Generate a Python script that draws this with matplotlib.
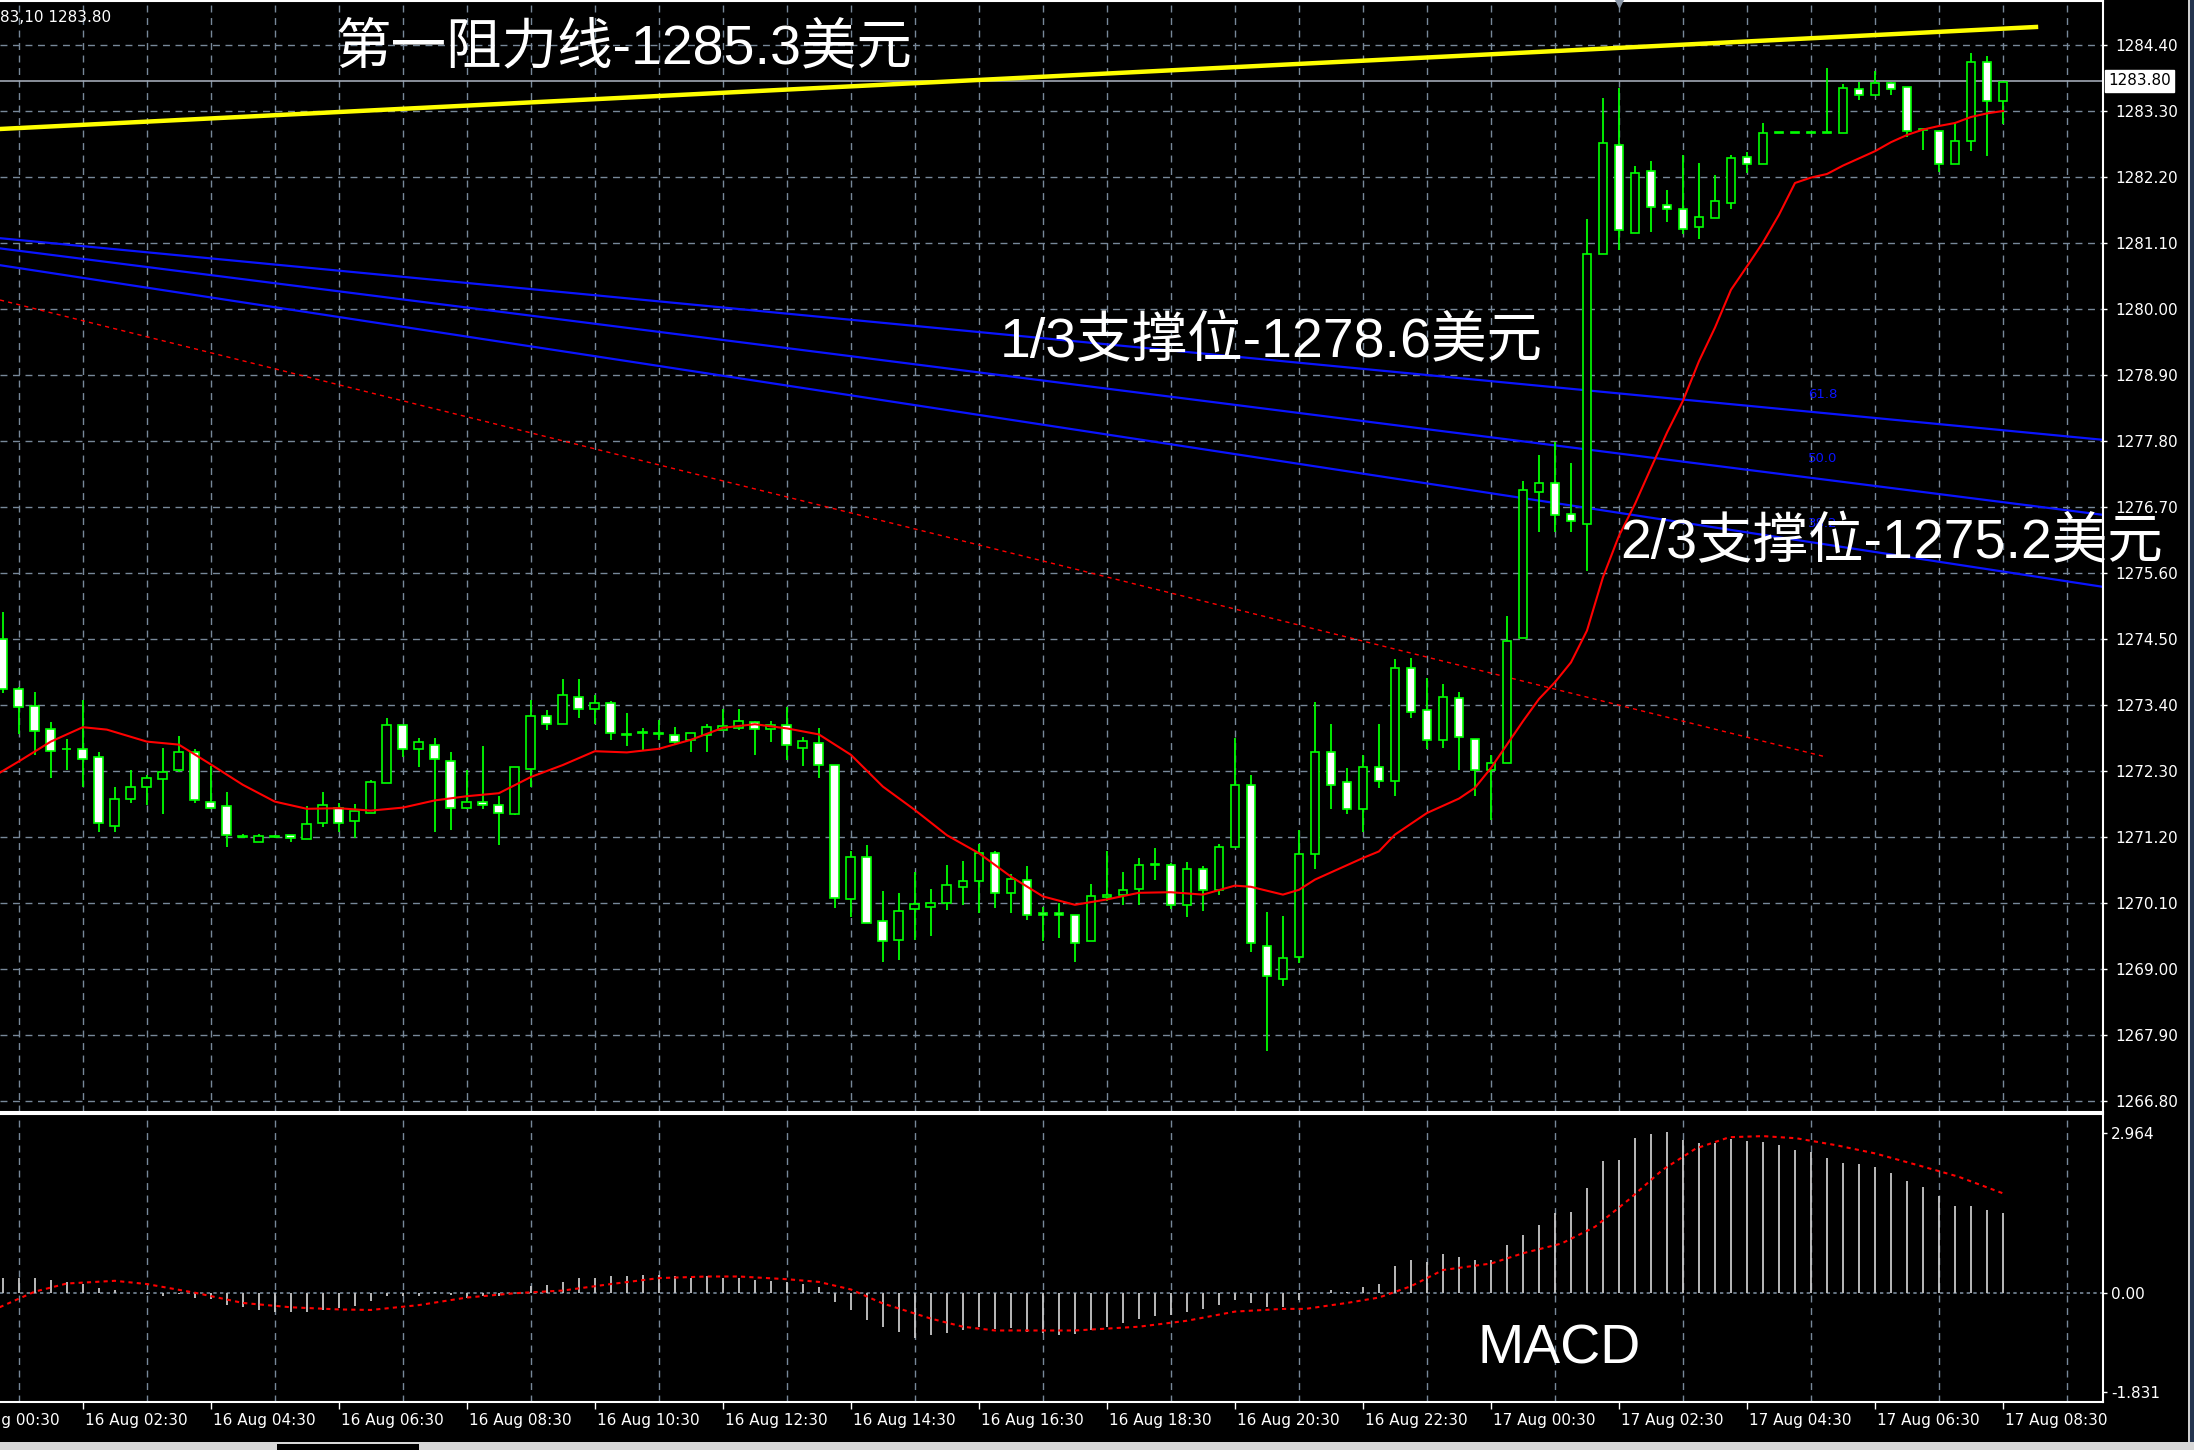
import numpy as np
import matplotlib
matplotlib.use("Agg")
import matplotlib.pyplot as plt
from matplotlib.patches import Rectangle

W, H = 2194, 1450

# 15 minute bars, index 0 = 16 Aug 02:30
bar_idx = np.arange(-5, 121)

opens = [1274.50, 1273.67, 1273.38, 1273.00, 1272.66, 1272.67, 1272.54, 1271.39, 1271.84, 1272.03,
         1272.17, 1272.31, 1272.62, 1271.78, 1271.71, 1271.20, 1271.12, 1271.22, 1271.24, 1271.17,
         1271.43, 1271.69, 1271.46, 1271.60, 1272.10, 1273.07, 1272.67, 1272.74, 1272.47, 1271.69,
         1271.78, 1271.74, 1271.59, 1272.33, 1273.21, 1273.09, 1273.53, 1273.33, 1273.43, 1272.90,
         1272.93, 1272.93, 1272.90, 1272.82, 1272.90, 1272.99, 1273.02, 1273.11, 1273.00, 1273.07,
         1272.69, 1272.77, 1272.40, 1270.16, 1270.87, 1269.80, 1269.49, 1270.00, 1270.03, 1270.10,
         1270.36, 1270.46, 1270.94, 1270.26, 1270.49, 1269.94, 1269.94, 1269.90, 1269.46, 1270.20,
         1270.24, 1270.33, 1270.74, 1270.74, 1270.07, 1270.67, 1270.32, 1271.04, 1272.07, 1269.38,
         1268.83, 1269.20, 1270.91, 1272.61, 1272.11, 1271.67, 1272.37, 1272.14, 1274.01, 1273.31,
         1272.81, 1273.51, 1272.83, 1272.31, 1272.43, 1274.51, 1276.95, 1277.10, 1276.59, 1276.42,
         1280.92, 1282.73, 1281.26, 1282.30, 1281.74, 1281.67, 1281.36, 1281.52, 1281.77, 1282.53,
         1282.41, 1282.93, 1282.93, 1282.93, 1282.93, 1282.93, 1283.66, 1283.57, 1283.76, 1283.70,
         1282.99, 1282.96, 1282.42, 1282.80, 1284.11, 1283.46]
highs = [1274.95, 1273.70, 1273.61, 1273.11, 1272.84, 1273.48, 1272.61, 1272.04, 1272.31, 1272.24,
         1272.68, 1272.88, 1272.67, 1272.38, 1271.95, 1271.25, 1271.25, 1271.24, 1271.24, 1271.71,
         1271.95, 1271.77, 1271.75, 1272.15, 1273.18, 1273.07, 1272.85, 1272.85, 1272.62, 1272.32,
         1272.71, 1271.88, 1272.37, 1273.49, 1273.32, 1273.84, 1273.84, 1273.56, 1273.47, 1273.27,
         1273.01, 1273.15, 1273.04, 1272.94, 1273.08, 1273.34, 1273.34, 1273.13, 1273.13, 1273.37,
         1272.87, 1273.01, 1272.40, 1270.97, 1271.07, 1270.30, 1270.27, 1270.61, 1270.34, 1270.74,
         1270.80, 1271.08, 1270.97, 1270.59, 1270.71, 1270.04, 1270.10, 1269.90, 1270.42, 1270.97,
         1270.62, 1270.85, 1271.02, 1270.77, 1270.78, 1270.71, 1271.08, 1272.85, 1272.24, 1269.95,
         1269.88, 1271.32, 1273.45, 1273.08, 1272.35, 1272.57, 1273.08, 1274.16, 1274.18, 1273.85,
         1273.75, 1273.62, 1272.83, 1272.57, 1274.88, 1277.13, 1277.56, 1277.79, 1277.43, 1281.50,
         1283.51, 1283.69, 1282.38, 1282.47, 1281.98, 1282.57, 1282.44, 1282.24, 1282.57, 1282.61,
         1283.10, 1282.93, 1282.93, 1282.93, 1284.01, 1283.75, 1283.78, 1283.97, 1283.79, 1283.70,
         1282.99, 1282.96, 1283.11, 1284.27, 1284.21, 1283.79]
lows = [1273.60, 1272.91, 1272.56, 1272.19, 1272.31, 1272.03, 1271.29, 1271.29, 1271.76, 1271.74,
        1271.59, 1272.29, 1271.76, 1271.66, 1271.03, 1271.19, 1271.12, 1271.19, 1271.12, 1271.17,
        1271.36, 1271.29, 1271.19, 1271.60, 1272.10, 1272.54, 1272.36, 1271.29, 1271.32, 1271.66,
        1271.66, 1271.07, 1271.56, 1272.03, 1272.99, 1273.09, 1273.19, 1273.09, 1272.82, 1272.72,
        1272.63, 1272.82, 1272.73, 1272.62, 1272.62, 1272.99, 1272.98, 1272.56, 1272.79, 1272.48,
        1272.39, 1272.19, 1270.02, 1269.86, 1269.76, 1269.12, 1269.15, 1269.49, 1269.55, 1269.98,
        1270.06, 1269.93, 1270.02, 1269.93, 1269.82, 1269.46, 1269.51, 1269.12, 1269.46, 1270.13,
        1270.06, 1270.06, 1270.49, 1270.00, 1269.86, 1269.96, 1270.23, 1271.04, 1269.29, 1267.63,
        1268.72, 1269.10, 1270.66, 1271.66, 1271.58, 1271.29, 1272.02, 1271.89, 1273.18, 1272.66,
        1272.68, 1272.32, 1271.89, 1271.49, 1272.43, 1274.51, 1276.29, 1276.29, 1276.29, 1275.64,
        1280.92, 1280.98, 1281.26, 1281.29, 1281.45, 1281.25, 1281.16, 1281.52, 1281.66, 1282.26,
        1282.41, 1282.93, 1282.93, 1282.93, 1282.93, 1282.93, 1283.48, 1283.57, 1283.56, 1282.86,
        1282.65, 1282.29, 1282.42, 1282.64, 1282.55, 1283.09]
closes = [1273.67, 1273.37, 1272.97, 1272.64, 1272.66, 1272.50, 1271.43, 1271.84, 1272.04, 1272.18,
          1272.28, 1272.62, 1271.81, 1271.69, 1271.23, 1271.21, 1271.21, 1271.20, 1271.19, 1271.41,
          1271.74, 1271.43, 1271.64, 1272.11, 1273.07, 1272.67, 1272.78, 1272.50, 1271.69, 1271.78,
          1271.73, 1271.60, 1272.37, 1273.21, 1273.09, 1273.57, 1273.33, 1273.43, 1272.93, 1272.90,
          1272.93, 1272.91, 1272.79, 1272.93, 1273.04, 1273.05, 1273.13, 1273.00, 1273.07, 1272.73,
          1272.80, 1272.40, 1270.18, 1270.87, 1269.76, 1269.47, 1269.97, 1270.08, 1270.10, 1270.40,
          1270.47, 1270.94, 1270.26, 1270.50, 1269.90, 1269.90, 1269.90, 1269.44, 1270.21, 1270.24,
          1270.31, 1270.74, 1270.74, 1270.07, 1270.67, 1270.31, 1271.04, 1272.07, 1269.43, 1268.88,
          1269.18, 1270.92, 1272.61, 1272.07, 1271.67, 1272.37, 1272.14, 1274.01, 1273.29, 1272.81,
          1273.54, 1272.87, 1272.31, 1272.43, 1274.47, 1276.98, 1277.10, 1276.57, 1276.46, 1280.92,
          1282.76, 1281.31, 1282.26, 1281.70, 1281.67, 1281.34, 1281.53, 1281.80, 1282.51, 1282.41,
          1282.94, 1282.93, 1282.93, 1282.93, 1282.93, 1283.68, 1283.57, 1283.76, 1283.67, 1282.96,
          1282.99, 1282.41, 1282.80, 1284.11, 1283.46, 1283.79]

# moving average (red)
ma_idx = [-5.2, -4, -2, 0, 1.5, 4, 6, 8, 10, 12, 14, 16, 18, 20, 22, 24, 26, 28, 30, 32, 34, 36, 38,
          40, 42, 44, 46, 48, 50, 52, 54, 56, 58, 60, 62, 64, 66, 68, 70, 72, 73, 75, 76, 77, 78, 80,
          81, 82, 84, 86, 87, 88, 89, 90, 91, 92, 93, 94, 95, 96, 97, 98, 99, 100, 101, 102, 103, 104,
          105, 106, 107, 108, 109, 110, 111, 112, 113, 114, 115, 116, 117, 118, 119, 120]
ma_val = [1272.27, 1272.46, 1272.79, 1273.03, 1272.99, 1272.79, 1272.74, 1272.41, 1272.07, 1271.79,
          1271.67, 1271.68, 1271.64, 1271.69, 1271.81, 1271.88, 1271.93, 1272.20, 1272.40, 1272.63,
          1272.61, 1272.67, 1272.82, 1273.02, 1273.08, 1273.01, 1272.91, 1272.57, 1272.04, 1271.65,
          1271.23, 1270.93, 1270.54, 1270.21, 1270.07, 1270.16, 1270.27, 1270.28, 1270.24, 1270.39,
          1270.37, 1270.24, 1270.32, 1270.49, 1270.61, 1270.85, 1270.96, 1271.24, 1271.60, 1271.84,
          1272.02, 1272.35, 1272.74, 1273.13, 1273.50, 1273.78, 1274.11, 1274.64, 1275.53, 1276.22,
          1276.75, 1277.35, 1277.94, 1278.47, 1279.13, 1279.69, 1280.32, 1280.71, 1281.11, 1281.57,
          1282.10, 1282.19, 1282.25, 1282.39, 1282.51, 1282.63, 1282.78, 1282.90, 1282.99, 1283.05,
          1283.10, 1283.20, 1283.26, 1283.30]

macd_hist = [0.28, 0.28, 0.27, 0.23, 0.19, 0.16, 0.08, 0.05, 0.00, -0.02,
             -0.06, -0.02, -0.09, -0.12, -0.23, -0.26, -0.32, -0.35, -0.35, -0.36,
             -0.32, -0.29, -0.25, -0.15, -0.06, -0.07, -0.06, 0.02, -0.04, -0.09,
             -0.07, -0.06, 0.00, 0.12, 0.14, 0.20, 0.27, 0.27, 0.31, 0.31,
             0.33, 0.33, 0.30, 0.27, 0.30, 0.28, 0.27, 0.23, 0.22, 0.19,
             0.16, 0.11, -0.17, -0.32, -0.51, -0.63, -0.72, -0.83, -0.78, -0.74,
             -0.69, -0.63, -0.68, -0.66, -0.72, -0.75, -0.78, -0.77, -0.69, -0.63,
             -0.57, -0.49, -0.44, -0.41, -0.35, -0.31, -0.23, -0.14, -0.20, -0.27,
             -0.26, -0.14, 0.00, 0.05, 0.02, 0.11, 0.17, 0.49, 0.60, 0.57,
             0.72, 0.67, 0.60, 0.60, 0.88, 1.07, 1.25, 1.47, 1.50, 1.93,
             2.43, 2.46, 2.86, 2.94, 2.98, 2.83, 2.77, 2.77, 2.84, 2.81,
             2.80, 2.73, 2.64, 2.61, 2.49, 2.41, 2.38, 2.33, 2.22, 2.07,
             1.95, 1.79, 1.61, 1.61, 1.53, 1.48]
signal_idx = [-5.2, -3, -1, 2, 4, 7, 10, 13, 16, 18, 21, 24, 27, 30, 33, 36, 39, 41, 44, 46, 48, 50,
              53, 55, 57, 62, 66, 69, 72, 75, 76.4, 79, 81, 83, 85, 88, 90, 92.4, 94.5, 96.6, 98.7,
              100.8, 102.9, 105, 107.1, 109.6, 112, 114.7, 117.2, 120]
signal_val = [-0.27, 0.02, 0.17, 0.22, 0.16, 0.00, -0.19, -0.27, -0.31, -0.32, -0.23, -0.09, -0.01,
              0.04, 0.16, 0.27, 0.30, 0.30, 0.25, 0.20, 0.06, -0.20, -0.48, -0.63, -0.70, -0.70,
              -0.63, -0.52, -0.35, -0.30, -0.30, -0.19, -0.09, 0.12, 0.42, 0.54, 0.73, 0.91, 1.22,
              1.72, 2.27, 2.67, 2.88, 2.90, 2.86, 2.73, 2.58, 2.36, 2.15, 1.84]

time_tick_idx = [-8, 0, 8, 16, 24, 32, 40, 48, 56, 64, 72, 80, 88, 96, 104, 112, 120]
time_labels = ["16 Aug 00:30", "16 Aug 02:30", "16 Aug 04:30", "16 Aug 06:30", "16 Aug 08:30",
               "16 Aug 10:30", "16 Aug 12:30", "16 Aug 14:30", "16 Aug 16:30", "16 Aug 18:30",
               "16 Aug 20:30", "16 Aug 22:30", "17 Aug 00:30", "17 Aug 02:30", "17 Aug 04:30",
               "17 Aug 06:30", "17 Aug 08:30"]
price_ticks = [1266.80, 1267.90, 1269.00, 1270.10, 1271.20, 1272.30, 1273.40, 1274.50, 1275.60,
               1276.70, 1277.80, 1278.90, 1280.00, 1281.10, 1282.20, 1283.30, 1284.40]
macd_ticks = [-1.831, 0.0, 2.964]
bid = 1283.80

# drawn objects (bar index, price)
resist_x, resist_y = [-5.175, 122.06], [1283.00, 1284.70]
fib_x = [-5.175, 126.23]
fib_a = [1281.18, 1277.82]
fib_b = [1281.01, 1276.57]
fib_c = [1280.73, 1275.37]
fib_labels = ["61.8", "50.0", "38.2"]
fib_label_y = [1278.58, 1277.50, 1276.42]
down_x, down_y = [-5.175, 109.0], [1280.15, 1272.53]

GREEN = "#00ff00"
GRID = "#778899"
CJK = ["Liberation Sans", "Noto Sans CJK SC"]

fig = plt.figure(figsize=(W / 100, H / 100), dpi=100, facecolor="black")
ax = fig.add_axes([0, 1 - 1111.7 / H, 2102.7 / W, 1110.7 / H])
ax2 = fig.add_axes([0, 1 - 1401.7 / H, 2102.7 / W, 287.4 / H])

for a in (ax, ax2):
    a.set_facecolor("black")
    a.set_xlim(-5.175, 126.23)
    for s in ("top", "right", "bottom"):
        a.spines[s].set_color("white")
        a.spines[s].set_linewidth(1.5)
    a.spines["left"].set_visible(False)
    a.yaxis.tick_right()

# ---- price panel ----
ax.set_ylim(1266.622, 1285.133)
ax.set_yticks(price_ticks)
ax.set_yticklabels(["%.2f" % p for p in price_ticks])
ax.set_xticks(np.arange(-4, 127, 4))
ax.tick_params(axis="x", bottom=False, labelbottom=False)
ax.tick_params(axis="y", colors="white", length=3, width=1, pad=6, labelsize=11)
ax.grid(True, color=GRID, linestyle=(0, (5, 4)), linewidth=1)
ax.set_axisbelow(True)

o = np.array(opens); c = np.array(closes)
up = c >= o
ax.vlines(bar_idx, lows, highs, color=GREEN, linewidth=1.3, zorder=3)
ax.bar(bar_idx, np.maximum(np.abs(c - o), 0.015), bottom=np.minimum(o, c), width=0.55,
       color=np.where(up, "black", "white"), edgecolor=GREEN, linewidth=1.2, zorder=4)

ax.plot(ma_idx, ma_val, color="red", linewidth=1.5, zorder=5)
ax.plot(resist_x, resist_y, color="#ffff00", linewidth=3.2, zorder=5)
for fy in (fib_a, fib_b, fib_c):
    ax.plot(fib_x, fy, color="#0a14ff", linewidth=1.6, zorder=2)
for lab, ly in zip(fib_labels, fib_label_y):
    ax.text(107.8, ly, lab, color="#0a14ff", fontsize=9.5, ha="left", va="center", zorder=2)
ax.plot(down_x, down_y, color="red", linewidth=1, linestyle=(0, (3, 3)), zorder=2)
ax.axhline(bid, color="#a0a8b4", linewidth=1.2, zorder=2)
ax.text(1.0025, bid, "1283.80", transform=ax.get_yaxis_transform(), color="black", fontsize=11,
        ha="left", va="center", clip_on=False,
        bbox=dict(facecolor="white", edgecolor="white", boxstyle="square,pad=0.2"))
ax.plot([96], [1], marker="v", color="#8a96a6", markersize=9, transform=ax.get_xaxis_transform(),
        clip_on=False, zorder=6)

# ---- MACD panel ----
ax2.set_ylim(-2.019, 3.304)
ax2.set_yticks(macd_ticks)
ax2.set_yticklabels(["-1.831", "0.00", "2.964"])
ax2.tick_params(axis="y", colors="white", length=3, width=1, pad=3, labelsize=11)
ax2.set_xticks(time_tick_idx[1:])
ax2.set_xticks(np.arange(-4, 127, 4), minor=True)
ax2.tick_params(axis="x", which="major", colors="white", length=5, width=1, labelbottom=False)
ax2.tick_params(axis="x", which="minor", length=0)
ax2.grid(True, axis="x", which="minor", color=GRID, linestyle=(0, (5, 4)), linewidth=1)
ax2.axhline(0, color=GRID, linestyle=(0, (2, 2)), linewidth=1.2, zorder=1)
ax2.set_axisbelow(True)
ax2.vlines(bar_idx, 0, macd_hist, color="#c8c8c8", linewidth=1.3, zorder=3)
ax2.plot(signal_idx, signal_val, color="red", linewidth=1.5, linestyle=(0, (2, 2)), zorder=4)

for t, lab in zip(time_tick_idx, time_labels):
    ax2.text(t + 0.15, -0.067, lab, transform=ax2.get_xaxis_transform(), color="white",
             fontsize=11, ha="left", va="center", clip_on=False)

# ---- annotations ----
def ftext(x, y, s, **kw):
    fig.text(x / W, 1 - y / H, s, **kw)

ftext(0, 17, "83,10 1283.80", color="white", fontsize=11, ha="left", va="center")
ftext(335, 49, "第一阻力线-1285.3美元", color="white", fontsize=40, family=CJK, ha="left", va="center")
ftext(1000, 343, "1/3支撑位-1278.6美元", color="white", fontsize=40, family=CJK, ha="left", va="center")
ftext(1620, 544, "2/3支撑位-1275.2美元", color="white", fontsize=40, family=CJK, ha="left", va="center")
ftext(1478, 1350, "MACD", color="white", fontsize=40, family=CJK, ha="left", va="center")

# window edges
fig.patches.append(Rectangle((2190 / W, 0), 4 / W, 1, transform=fig.transFigure,
                             facecolor="#24344e", edgecolor="none"))
fig.patches.append(Rectangle((2188 / W, 8 / H), 2 / W, 1 - 8 / H, transform=fig.transFigure,
                             facecolor="#d0d0d0", edgecolor="none"))
fig.patches.append(Rectangle((0, 0), 1, 8 / H, transform=fig.transFigure,
                             facecolor="#d8d8d8", edgecolor="none"))
fig.patches.append(Rectangle((277 / W, 0), 142 / W, 6 / H, transform=fig.transFigure,
                             facecolor="black", edgecolor="none"))

fig.savefig("out.png", dpi=100, facecolor="black")
